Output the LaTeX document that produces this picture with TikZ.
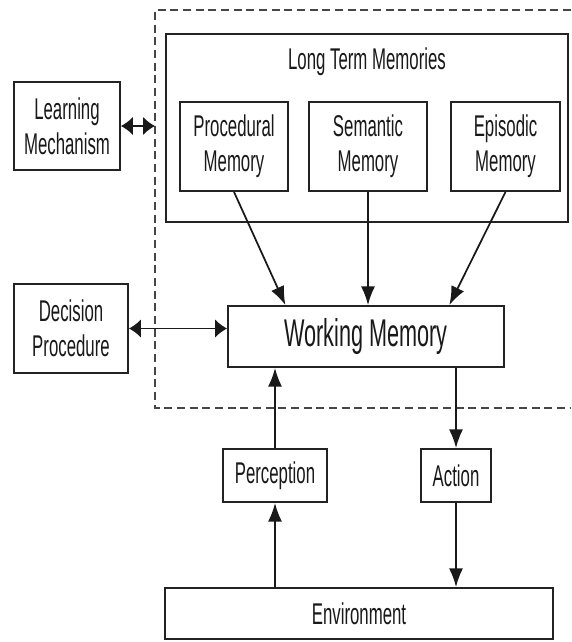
\documentclass[tikz,border=0pt]{standalone}
\usepackage{fontspec}
\setmainfont[FakeStretch=0.56]{Liberation Sans}
\usepackage{tikz}
\usetikzlibrary{arrows.meta, positioning, calc}
\definecolor{mydark}{RGB}{25,25,25}
\definecolor{myframe}{RGB}{35,35,35}
\definecolor{mydash}{RGB}{70,70,70}
\tikzset{
  block/.style={rectangle, draw=myframe, fill=white, align=center,
    inner sep=0pt, line width=1.4pt, text=mydark,
    font=\fontsize{22.5}{26}\selectfont},
  wmblock/.style={block, font=\fontsize{29}{32}\selectfont},
  varrow/.style={-{Latex[length=14pt,width=10.5pt]}, line width=1.3pt, color=mydark},
  harrow/.style={{Latex[length=9pt,width=14pt]}-{Latex[length=9pt,width=14pt]}, line width=1.3pt, color=mydark},
  region/.style={dash pattern=on 6pt off 3.5pt, line width=1.5pt, color=mydash}
}

\begin{document}
\begin{tikzpicture}[x=0.75pt, y=-0.75pt]
  \useasboundingbox (0,0) rectangle (571,642);

  % dashed agent region (open on the right)
  \coordinate (dashtl) at (155,10);
  \coordinate (dashbl) at (155,408);
  \draw[region] (571,10) -- (dashtl) -- (dashbl) -- (571,408);

  % Long term memories
  \node[block, minimum width=301.5pt, minimum height=141pt] (ltm) at (367,128) {};
  \node[font=\fontsize{22.5}{26}\selectfont, text=mydark] (ltmtitle) at (367,62) {Long Term Memories};
  \node[block, minimum width=81pt, minimum height=66.75pt] (proc) at (234,146.5) {Procedural\\Memory};
  \node[block, minimum width=88.5pt, minimum height=66.75pt] (sem) at (368,146.5) {Semantic\\Memory};
  \node[block, minimum width=81.75pt, minimum height=66.75pt] (epi) at (505.5,146.5) {Episodic\\Memory};

  % Working memory and side boxes
  \node[wmblock, minimum width=207pt, minimum height=45.75pt] (wm) at (366,336.5) {Working Memory};
  \node[block, minimum width=79.5pt, minimum height=66pt] (learn) at (67,126) {Learning\\Mechanism};
  \node[block, minimum width=85.5pt, minimum height=66.75pt] (dec) at (71,328.5) {Decision\\Procedure};

  % Perception, action, environment
  \node[block, minimum width=78pt, minimum height=39.75pt] (perc) at (275,475.5) {Perception};
  \node[block, minimum width=52.5pt, minimum height=39.75pt] (act) at (456,475.5) {Action};
  \node[block, minimum width=291pt, minimum height=38.25pt] (env) at (359,613.5) {Environment};

  % arrows
  \draw[harrow] (learn.east) -- (learn.east -| dashtl);
  \draw[harrow] (dec.east) -- (dec.east -| wm.west);
  \draw[varrow] (proc.south) -- ($(wm.north west)!0.21!(wm.north east)$);
  \draw[varrow] (sem.south) -- (sem.south |- wm.north);
  \draw[varrow] (epi.south) -- ($(wm.north west)!0.80!(wm.north east)$);
  \draw[varrow] (perc.south |- env.north) -- (perc.south);
  \draw[varrow] (perc.north) -- (perc.north |- wm.south);
  \draw[varrow] (act.north |- wm.south) -- (act.north);
  \draw[varrow] (act.south) -- (act.south |- env.north);
\end{tikzpicture}
\end{document}
